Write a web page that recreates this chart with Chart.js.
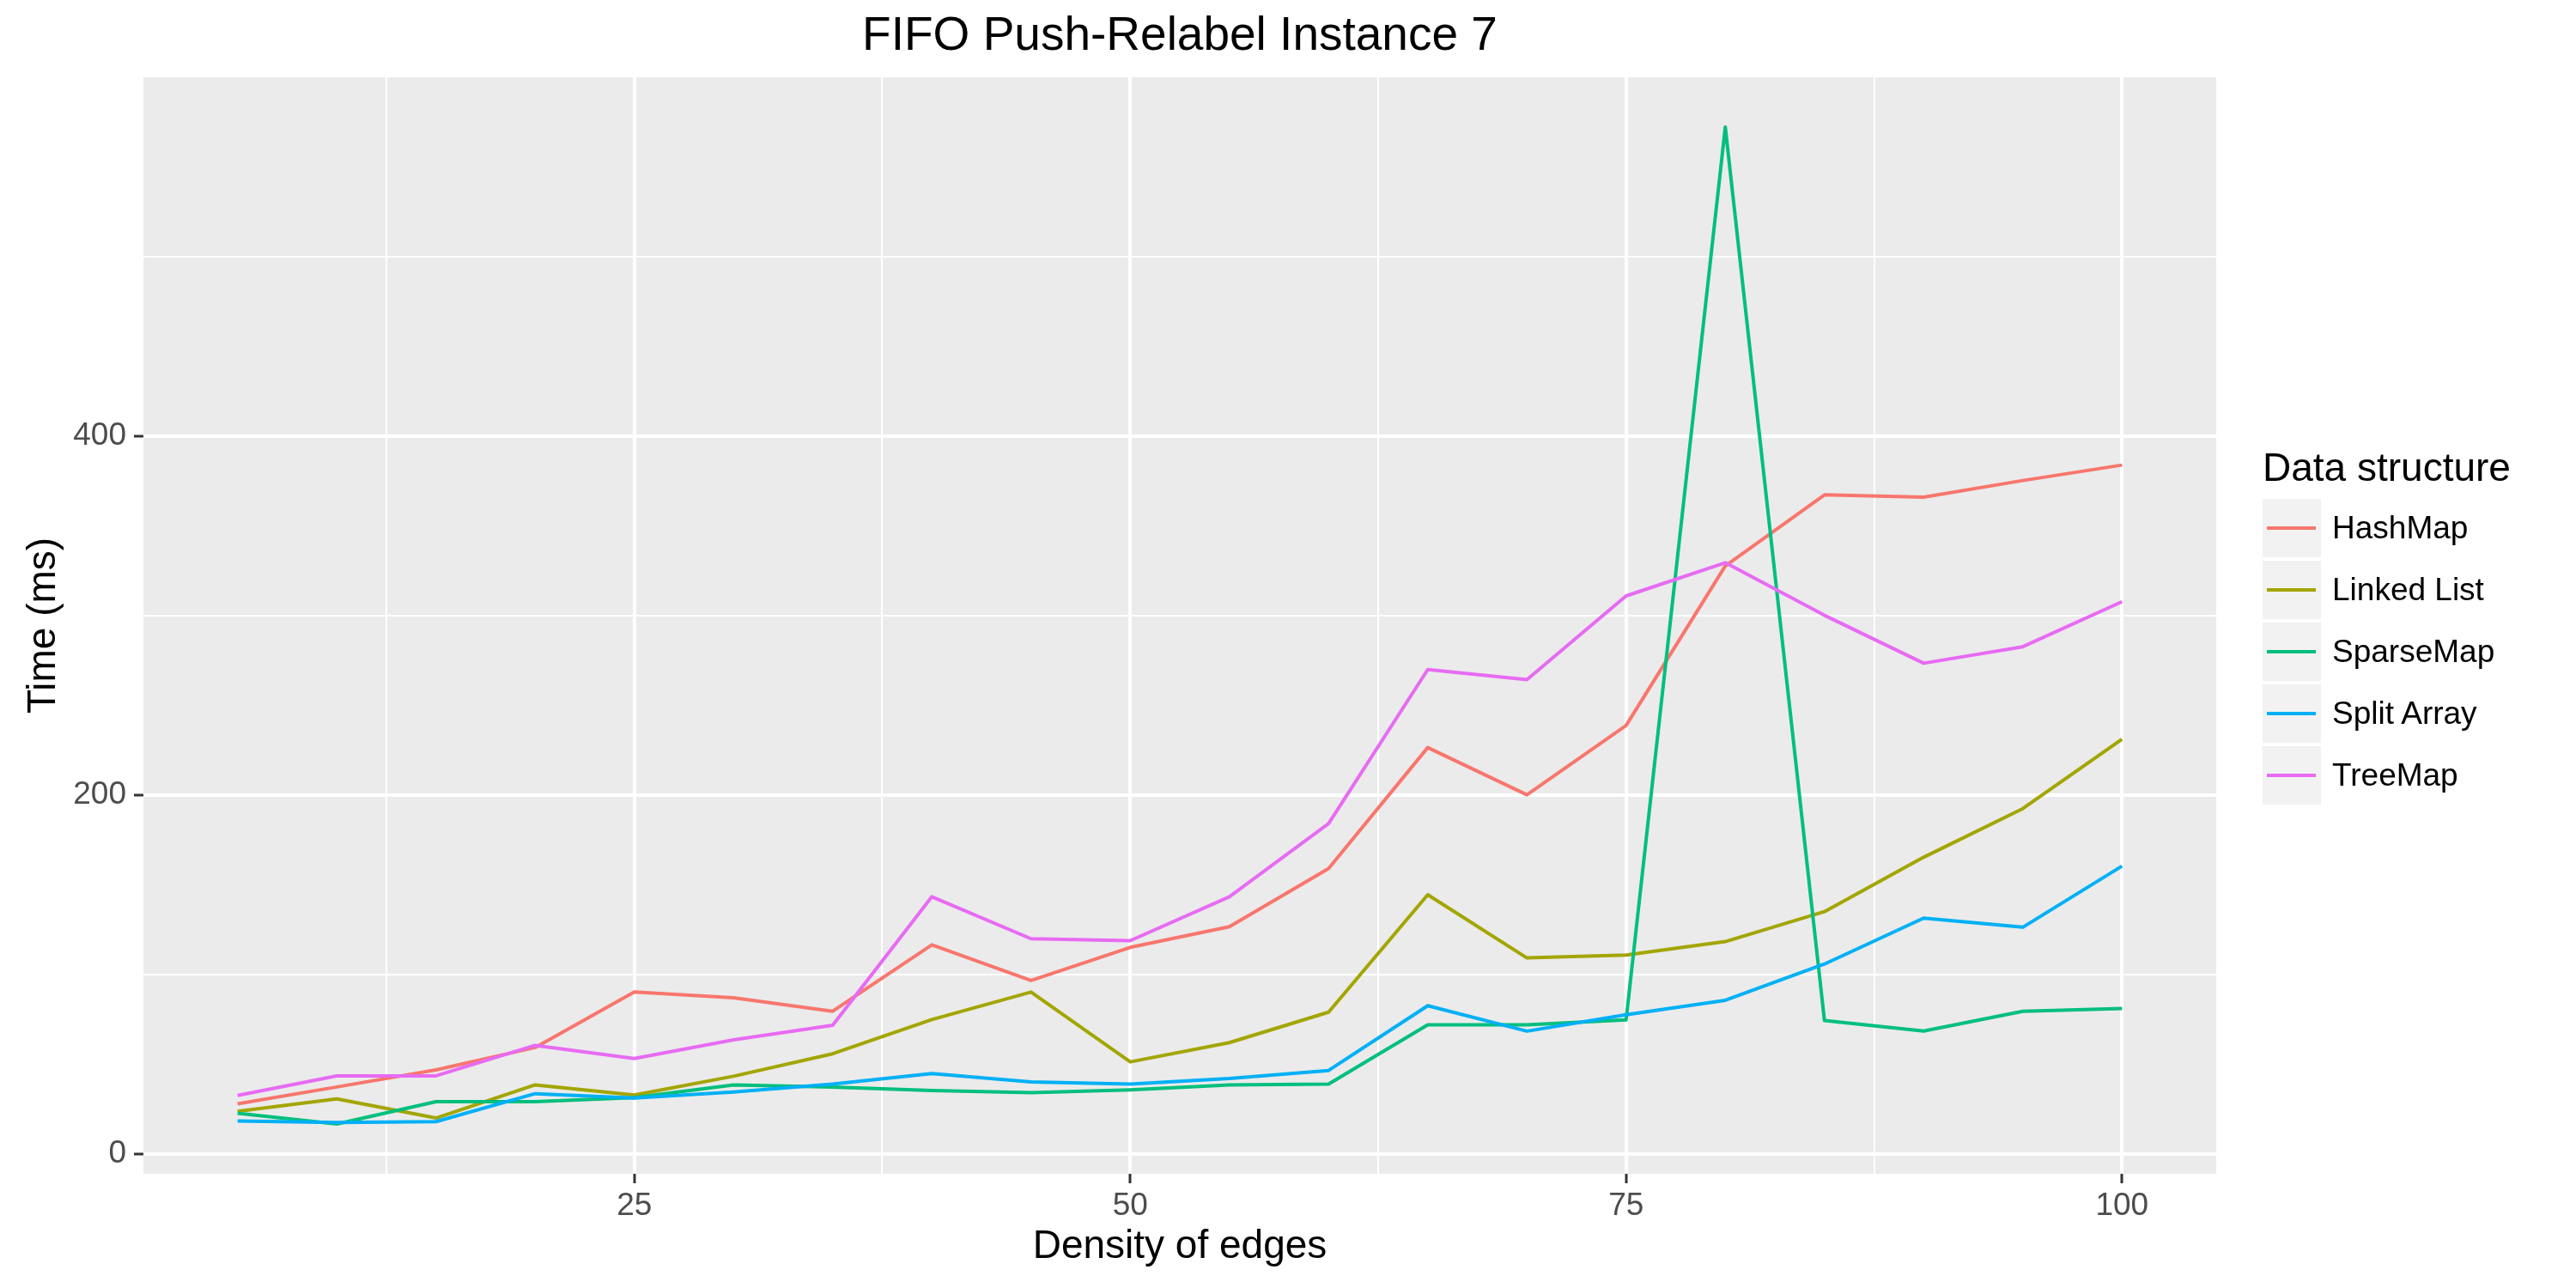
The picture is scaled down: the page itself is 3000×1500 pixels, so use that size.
<!DOCTYPE html>
<html>
<head>
<meta charset="utf-8">
<script src="https://cdn.jsdelivr.net/npm/chart.js@4.4.1/dist/chart.umd.min.js"></script>
<style>
  html, body { margin: 0; padding: 0; background: #ffffff; }
  #wrap { position: relative; width: 3000px; height: 1500px; overflow: hidden; }
  #chart { position: absolute; left: 0; top: 0; }
  #legend { position: absolute; left: 2635px; top: 521px; font-family: "Liberation Sans", Arial, sans-serif; color: #000; }
  #legend .ttl { font-size: 46px; line-height: 46px; height: 60px; white-space: nowrap; }
  #legend .item { display: flex; align-items: center; height: 68px; margin-bottom: 4px; }
  #legend .key { position: relative; width: 68px; height: 68px; background: #F2F2F2; }
  #legend .key span { position: absolute; left: 5px; right: 6px; top: 32px; height: 4px; }
  #legend .lab { font-size: 37px; margin-left: 13px; white-space: nowrap; }
</style>
</head>
<body>
<div id="wrap">
  <canvas id="chart" width="3000" height="1500"></canvas>
  <div id="legend"></div>
</div>
<script>
// ---- data ----
const density = [5, 10, 15, 20, 25, 30, 35, 40, 45, 50, 55, 60, 65, 70, 75, 80, 85, 90, 95, 100];
const seriesNames = ["HashMap", "Linked List", "SparseMap", "Split Array", "TreeMap"];
const hashMap    = [27.8, 37.2, 46.7, 59.2, 90.1, 86.9, 79.4, 116.4, 96.5, 115.0, 126.5, 158.9, 226.3, 200.0, 238.6, 327.5, 367.1, 365.8, 375.1, 383.7];
const linkedList = [23.6, 30.6, 19.9, 38.4, 32.7, 43.2, 55.7, 74.8, 90.1, 51.2, 61.9, 78.9, 144.3, 109.1, 110.7, 118.2, 134.9, 165.2, 192.3, 231.0];
const sparseMap  = [22.6, 16.6, 29.0, 29.0, 31.3, 38.3, 37.2, 35.2, 34.0, 35.6, 38.4, 38.8, 71.8, 71.8, 74.6, 572.0, 74.2, 68.4, 79.4, 80.9];
const splitArray = [18.2, 17.4, 17.9, 33.5, 31.1, 34.4, 38.8, 44.7, 40.0, 38.8, 41.9, 46.4, 82.5, 68.3, 77.5, 85.5, 105.7, 131.3, 126.2, 160.3];
const treeMap    = [32.5, 43.4, 43.4, 60.4, 53.1, 63.5, 71.6, 143.2, 119.8, 118.7, 143.2, 184.0, 269.8, 264.2, 310.8, 329.3, 300.0, 273.3, 282.5, 307.6];
const xMajorTicks = [25, 50, 75, 100];
const xMinorTicks = [12.5, 37.5, 62.5, 87.5];
const yMajorTicks = [0, 200, 400];
const yMinorTicks = [100, 300, 500];
const chartTitle = "FIFO Push-Relabel Instance 7";
const xTitle = "Density of edges";
const yTitle = "Time (ms)";
const legendTitle = "Data structure";

// ---- styling ----
const colors = ["#F8766D", "#A3A500", "#00BF7D", "#00B0F6", "#E76BF3"];
const FONT = "'Liberation Sans', Arial, sans-serif";
const allSeries = [hashMap, linkedList, sparseMap, splitArray, treeMap];

// ggplot-like 5% expansion of the ranges
const allVals = allSeries.flat();
const yMin = Math.min(...allVals), yMax = Math.max(...allVals);
const yPad = (yMax - yMin) * 0.05;
const xMin = Math.min(...density), xMax = Math.max(...density);
const xPad = (xMax - xMin) * 0.05;

const datasets = seriesNames.map((name, i) => ({
  label: name,
  data: density.map((x, j) => ({ x: x, y: allSeries[i][j] })),
  borderColor: colors[i],
  backgroundColor: colors[i],
  borderWidth: 4,
  pointRadius: 0,
  tension: 0,
  fill: false,
  borderJoinStyle: 'round',
  borderCapStyle: 'butt',
  order: seriesNames.length - i
}));

const panelBg = {
  id: 'panelBg',
  beforeDraw(chart) {
    const a = chart.chartArea, ctx = chart.ctx;
    ctx.save();
    ctx.fillStyle = '#EBEBEB';
    ctx.fillRect(a.left, a.top, a.right - a.left, a.bottom - a.top);
    ctx.restore();
  }
};

const isMajorX = v => xMajorTicks.includes(v);
const isMajorY = v => yMajorTicks.includes(v);

new Chart(document.getElementById('chart'), {
  type: 'line',
  data: { datasets },
  plugins: [panelBg],
  options: {
    responsive: false,
    devicePixelRatio: 1,
    animation: false,
    layout: { padding: { left: 0, right: 419, top: 0, bottom: 0 } },
    plugins: {
      legend: { display: false },
      tooltip: { enabled: false },
      title: {
        display: true,
        text: chartTitle,
        fullSize: false,
        color: '#000000',
        font: { family: FONT, size: 55, weight: 'normal', lineHeight: 1.2 },
        padding: { top: 10, bottom: 14 }
      }
    },
    scales: {
      x: {
        type: 'linear',
        min: xMin - xPad,
        max: xMax + xPad,
        afterBuildTicks: s => { s.ticks = [...xMinorTicks, ...xMajorTicks].sort((a, b) => a - b).map(v => ({ value: v })); },
        afterFit: s => { s.height = 133; },
        ticks: {
          autoSkip: false, maxRotation: 0, minRotation: 0,
          color: '#4D4D4D',
          padding: 5,
          font: { family: FONT, size: 37, lineHeight: 1.2 },
          callback: v => isMajorX(v) ? String(v) : ''
        },
        grid: {
          color: '#FFFFFF',
          lineWidth: c => (c.tick && isMajorX(c.tick.value)) ? 4 : 2,
          drawTicks: true,
          tickLength: 11,
          tickWidth: 3,
          tickColor: c => (c.tick && isMajorX(c.tick.value)) ? '#333333' : 'rgba(0,0,0,0)'
        },
        border: { display: false },
        title: {
          display: true, text: xTitle, color: '#000000',
          font: { family: FONT, size: 46, lineHeight: 1.2 },
          padding: { top: 0, bottom: 20 }
        }
      },
      y: {
        type: 'linear',
        min: yMin - yPad,
        max: yMax + yPad,
        afterBuildTicks: s => { s.ticks = [...yMajorTicks, ...yMinorTicks].sort((a, b) => a - b).map(v => ({ value: v })); },
        afterFit: s => { s.width = 167; },
        ticks: {
          autoSkip: false,
          color: '#4D4D4D',
          padding: 9,
          font: { family: FONT, size: 37, lineHeight: 1.2 },
          callback: v => isMajorY(v) ? String(v) : ''
        },
        grid: {
          color: '#FFFFFF',
          lineWidth: c => (c.tick && isMajorY(c.tick.value)) ? 4 : 2,
          drawTicks: true,
          tickLength: 11,
          tickWidth: 3,
          tickColor: c => (c.tick && isMajorY(c.tick.value)) ? '#333333' : 'rgba(0,0,0,0)'
        },
        border: { display: false },
        title: {
          display: true, text: yTitle, color: '#000000',
          font: { family: FONT, size: 46, lineHeight: 1.2 },
          padding: { top: 24, bottom: 0 }
        }
      }
    }
  }
});

// ---- legend (HTML) ----
const leg = document.getElementById('legend');
const t = document.createElement('div');
t.className = 'ttl';
t.textContent = legendTitle;
leg.appendChild(t);
seriesNames.forEach((name, i) => {
  const item = document.createElement('div');
  item.className = 'item';
  const key = document.createElement('div');
  key.className = 'key';
  const ln = document.createElement('span');
  ln.style.background = colors[i];
  key.appendChild(ln);
  const lab = document.createElement('div');
  lab.className = 'lab';
  lab.textContent = name;
  item.appendChild(key);
  item.appendChild(lab);
  leg.appendChild(item);
});
</script>
</body>
</html>
